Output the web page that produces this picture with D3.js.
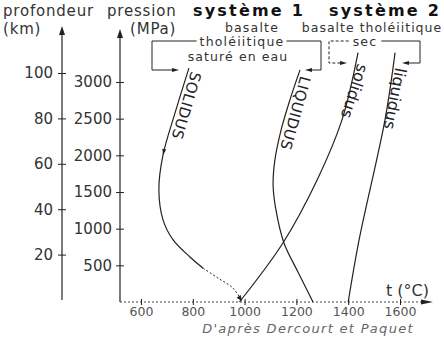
<!DOCTYPE html>
<html lang="fr">
<meta charset="utf-8">
<style>
  body { margin: 0; background: #fff; }
  svg { display: block; font-family: "DejaVu Sans", sans-serif; }
</style>
<body>
<svg width="444" height="342"></svg>
<script src="https://cdn.jsdelivr.net/npm/d3@7"></script>
<script>
// graduations des axes
const tempTicks = [600, 800, 1000, 1200, 1400, 1600]
const pressTicks = [500, 1000, 1500, 2000, 2500, 3000]
const depthTicks = [20, 40, 60, 80, 100]

// système 1 : basalte tholéiitique saturé en eau   [t (°C), P (MPa)]
const wetSolidus = [[785, 3190], [735, 2620], [685, 2005], [669, 1530], [685, 1120], [724, 846], [789, 614], [840, 460]]
const wetSolidusTail = [[840, 460], [900, 320], [955, 190], [990, 10]]
const wetLiquidus = [[1214, 3165], [1175, 2756], [1141, 2347], [1117, 1937], [1110, 1596], [1121, 1255], [1152, 805], [1206, 409], [1264, 0]]

// système 2 : basalte tholéiitique sec
const drySolidus = [[1438, 3400], [1376, 2483], [1280, 1664], [1148, 805], [980, 0]]
const dryLiquidus = [[1581, 3400], [1542, 2483], [1442, 846], [1400, 0]]

let svg = d3.select("svg")
let ink = "#222"

// échelles
let x = d3.scaleLinear().domain([600, 1600]).range([141, 400])
let yP = d3.scaleLinear().domain([0, 3000]).range([302, 82])
let yD = d3.scaleLinear().domain([0, 100]).range([300, 73])

let axX = 62, axP = 120, axY = 302

// petite flèche pleine
function arrowHead(g, px, py, angle, len, half) {
  g.append("path")
    .attr("d", `M0,0 L${-len},${-half} L${-len},${half} Z`)
    .attr("transform", `translate(${px},${py}) rotate(${angle})`)
    .attr("fill", ink)
}

// axe profondeur
svg.append("line").attr("x1", axX).attr("x2", axX).attr("y1", 300).attr("y2", 30)
  .attr("stroke", ink).attr("stroke-width", 1.2)
arrowHead(svg, axX, 26, -90, 9, 3)
let gD = svg.append("g").attr("transform", `translate(${axX},0)`)
  .call(d3.axisLeft(yD).tickValues(depthTicks).tickFormat(d3.format("d")).tickSize(4).tickPadding(5))
gD.select(".domain").remove()
gD.selectAll(".tick line").attr("x1", 4).attr("stroke", ink)
gD.selectAll("text").attr("font-size", 15).attr("font-family", "DejaVu Sans").attr("fill", "#333")

// axe pression
svg.append("line").attr("x1", axP).attr("x2", axP).attr("y1", axY).attr("y2", 33)
  .attr("stroke", ink).attr("stroke-width", 1.2)
arrowHead(svg, axP, 29, -90, 9, 3)
let gP = svg.append("g").attr("transform", `translate(${axP},0)`)
  .call(d3.axisLeft(yP).tickValues(pressTicks).tickFormat(d3.format("d")).tickSize(4).tickPadding(4))
gP.select(".domain").remove()
gP.selectAll(".tick line").attr("x1", 4).attr("stroke", ink)
gP.selectAll("text").attr("font-size", 15).attr("font-family", "DejaVu Sans").attr("fill", "#333")

// axe température
svg.append("line").attr("x1", axP).attr("x2", 426).attr("y1", axY).attr("y2", axY)
  .attr("stroke", "#444").attr("stroke-width", 1).attr("stroke-dasharray", "2,2")
arrowHead(svg, 433, axY, 0, 12, 2.5)
let gT = svg.append("g").attr("transform", `translate(0,${axY})`)
  .call(d3.axisBottom(x).tickValues(tempTicks).tickFormat(d3.format("d")).tickSize(3).tickPadding(2))
gT.select(".domain").remove()
gT.selectAll(".tick line").attr("y1", -3).attr("stroke", ink)
gT.selectAll("text").attr("font-size", 12.5).attr("font-family", "DejaVu Sans").attr("fill", "#555")

// courbes
let line = d3.line().x(d => x(d[0])).y(d => yP(d[1])).curve(d3.curveCatmullRom.alpha(0.5))
let curves = svg.append("g").attr("fill", "none").attr("stroke", ink).attr("stroke-width", 1.2)
curves.append("path").attr("d", line(wetSolidus))
curves.append("path").attr("d", line(wetSolidusTail)).attr("stroke-dasharray", "2,2").attr("stroke-width", 1)
curves.append("path").attr("d", line(wetLiquidus))
curves.append("path").attr("d", line(drySolidus))
curves.append("path").attr("d", line(dryLiquidus))

// flèches sur le solidus hydraté
function dirAngle(a, b) {
  return Math.atan2(yP(b[1]) - yP(a[1]), x(b[0]) - x(a[0])) * 180 / Math.PI
}
arrowHead(svg, x(wetSolidus[2][0]), yP(wetSolidus[2][1]), dirAngle(wetSolidus[1], wetSolidus[3]), 6, 2)
let tl = wetSolidusTail.length
arrowHead(svg, x(wetSolidusTail[tl - 1][0]), yP(wetSolidusTail[tl - 1][1]), dirAngle(wetSolidusTail[tl - 2], wetSolidusTail[tl - 1]), 6, 2.5)

// étiquettes le long des courbes
function curveLabel(txt, pts, i, j, along, normal, size, spacing) {
  let a = dirAngle(pts[i], pts[j])
  let r = a * Math.PI / 180
  let px = x(pts[i][0]) + Math.cos(r) * along + Math.sin(r) * normal
  let py = yP(pts[i][1]) + Math.sin(r) * along - Math.cos(r) * normal
  svg.append("text")
    .attr("transform", `translate(${px},${py}) rotate(${a})`)
    .attr("font-size", size).attr("letter-spacing", spacing)
    .attr("fill", ink)
    .text(txt)
}
curveLabel("SOLIDUS", wetSolidus, 0, 2, 2, 3, 15, 0.5)
curveLabel("LIQUIDUS", wetLiquidus, 0, 3, 5, 2, 15, 0.5)
curveLabel("solidus", drySolidus, 0, 2, 10, 3, 16, 0)
curveLabel("liquidus", dryLiquidus, 0, 2, 14, 3, 16, 0)

// titres
let txt = (s, tx, ty, opt = {}) => svg.append("text")
  .attr("x", tx).attr("y", ty)
  .attr("text-anchor", opt.anchor || "start")
  .attr("font-size", opt.size || 15)
  .attr("font-weight", opt.weight || "normal")
  .attr("font-style", opt.style || "normal")
  .attr("letter-spacing", opt.ls || 0)
  .attr("fill", opt.fill || "#333")
  .text(s)

txt("profondeur", 3, 16, {ls: 0.8})
txt("(km)", 3, 34, {ls: 0.8})
txt("pression", 107, 16, {ls: 0.8})
txt("(MPa)", 130, 34, {ls: 0.8})
txt("système 1", 249, 16, {anchor: "middle", weight: "bold", size: 16, ls: 2.2, fill: "#111"})
txt("système 2", 385, 16, {anchor: "middle", weight: "bold", size: 16, ls: 2.2, fill: "#111"})
txt("basalte", 252, 31.5, {anchor: "middle", size: 12.5, ls: 1.2})
let thol = txt("tholéiitique", 242, 46, {anchor: "middle", size: 12.5, ls: 1.2})
txt("saturé en eau", 238, 60.5, {anchor: "middle", size: 12.5, ls: 1.1})
txt("basalte tholéiitique", 372, 31.5, {anchor: "middle", size: 12.5, ls: 1})
let sec = txt("sec", 365, 46, {anchor: "middle", size: 12.5, ls: 1.2})
txt("t (°C)", 386, 296, {size: 16})
txt("D'après Dercourt et Paquet", 308, 333, {anchor: "middle", size: 13, style: "italic", ls: 1.3, fill: "#666"})

// accolades système 1 / système 2
let tb = thol.node().getBBox(), sb = sec.node().getBBox()
let br = svg.append("g").attr("fill", "none").attr("stroke", ink).attr("stroke-width", 1)
let yTop = 41
br.append("path").attr("d", `M${tb.x - 3},${yTop} H152 V70 H172`)
arrowHead(svg, 179, 70, 0, 7, 2)
br.append("path").attr("d", `M${tb.x + tb.width + 2},${yTop} H321 V70 H312`)
arrowHead(svg, 305, 70, 180, 7, 2)
br.append("path").attr("d", `M${sb.x - 4},${yTop} H329 V63 H340`).attr("stroke-dasharray", "3,2")
arrowHead(svg, 347, 63, 0, 7, 2)
br.append("path").attr("d", `M${sb.x + sb.width + 4},${yTop} H420 V63 H409`)
arrowHead(svg, 402, 63, 180, 7, 2)
</script>
</body>
</html>
